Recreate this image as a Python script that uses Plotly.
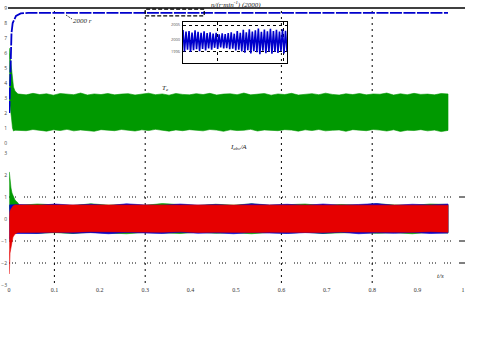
import numpy as np
import plotly.graph_objects as go

# ---------------- data ----------------
# x axis: time (s)
x_ticks = [0, 0.1, 0.2, 0.3, 0.4, 0.5, 0.6, 0.7, 0.8, 0.9, 1.0]
x_ticktext = ["0", "0.1", "0.2", "0.3", "0.4", "0.5", "0.6", "0.7", "0.8", "0.9", "1"]
top_yticks = [0, 1, 2, 3, 4, 5, 6, 7, 8, 9]
bot_yticks = [-3, -2, -1, 0, 1, 2, 3]
t_end = 0.967

# speed (top panel, scaled units)
speed_t = [0.0007, 0.0018, 0.0029, 0.0040, 0.0055, 0.0081, 0.0121, 0.0154, 0.0258, 0.0419, t_end]
speed_v = [2.00, 3.53, 5.20, 6.53, 7.33, 8.00, 8.33, 8.47, 8.64, 8.67, 8.67]

# electromagnetic torque envelope (top panel)
te_start_t = [0.0007, 0.0033, 0.0055, 0.0077, 0.0099, 0.0132, 0.0198]
te_start_up = [6.33, 5.53, 4.87, 4.20, 3.73, 3.47, 3.27]
te_start_lo = [2.87, 2.20, 1.67, 1.00, 0.80, 0.85, 0.87]
te_up = [3.26, 3.21, 3.31, 3.23, 3.28, 3.19, 3.30, 3.24, 3.22, 3.33, 3.20, 3.27, 3.23, 3.30,
         3.21, 3.26, 3.29, 3.20, 3.25, 3.32, 3.22, 3.27, 3.19, 3.30, 3.24, 3.21, 3.29, 3.23,
         3.31, 3.20, 3.26, 3.28, 3.22, 3.33, 3.21, 3.25, 3.30, 3.19, 3.27, 3.23, 3.31, 3.20,
         3.26, 3.29, 3.22, 3.32, 3.24, 3.20, 3.28, 3.23, 3.30, 3.21, 3.27, 3.25, 3.33, 3.20,
         3.28, 3.22, 3.31, 3.24, 3.26, 3.21, 3.30, 3.27]
te_lo = [0.86, 0.82, 0.90, 0.84, 0.79, 0.88, 0.83, 0.91, 0.81, 0.87, 0.85, 0.78, 0.89, 0.84,
         0.82, 0.90, 0.86, 0.80, 0.88, 0.83, 0.91, 0.85, 0.79, 0.87, 0.82, 0.89, 0.84, 0.81,
         0.90, 0.86, 0.78, 0.88, 0.83, 0.85, 0.91, 0.80, 0.87, 0.84, 0.82, 0.89, 0.86, 0.79,
         0.88, 0.83, 0.90, 0.81, 0.85, 0.87, 0.78, 0.89, 0.84, 0.82, 0.90, 0.86, 0.80, 0.88,
         0.77, 0.85, 0.83, 0.89, 0.81, 0.86, 0.76, 0.84]

# three-phase current envelopes (bottom panel)
i_start_t = [0.0007, 0.0022, 0.0044, 0.0066, 0.0088, 0.0132, 0.0198]
ia_start_up = [-0.05, 0.36, 0.45, 0.55, 0.59, 0.64, 0.64]
ia_start_lo = [-2.50, -1.55, -1.27, -1.05, -0.82, -0.68, -0.61]
ib_start_up = [0.64, 0.64, 0.66, 0.66, 0.66, 0.66, 0.66]
ib_start_lo = [-0.95, -0.86, -0.77, -0.72, -0.68, -0.66, -0.64]
ic_start_up = [2.14, 1.77, 1.41, 1.18, 1.05, 0.86, 0.73]
ic_start_lo = [0.59, 0.30, 0.00, -0.30, -0.50, -0.60, -0.63]

ia_up = [0.63, 0.64, 0.62, 0.65, 0.63, 0.64, 0.62, 0.64, 0.65, 0.63, 0.62, 0.64, 0.63, 0.65,
         0.62, 0.64, 0.63, 0.64, 0.62, 0.65, 0.63, 0.64, 0.62, 0.64, 0.63]
ia_lo = [-0.60, -0.59, -0.61, -0.60, -0.58, -0.60, -0.61, -0.59, -0.60, -0.58, -0.61, -0.60,
         -0.59, -0.61, -0.60, -0.58, -0.60, -0.61, -0.59, -0.60, -0.61, -0.59, -0.60, -0.58, -0.60]
ib_up = [0.66, 0.62, 0.68, 0.63, 0.67, 0.61, 0.69, 0.64, 0.62, 0.68, 0.63, 0.66, 0.61, 0.69,
         0.64, 0.67, 0.62, 0.68, 0.63, 0.66, 0.70, 0.62, 0.67, 0.64, 0.68]
ib_lo = [-0.64, -0.66, -0.60, -0.65, -0.62, -0.67, -0.61, -0.64, -0.66, -0.60, -0.65, -0.63,
         -0.67, -0.61, -0.64, -0.66, -0.62, -0.65, -0.60, -0.67, -0.63, -0.65, -0.61, -0.66, -0.64]
ic_up = [0.62, 0.68, 0.64, 0.61, 0.69, 0.63, 0.66, 0.62, 0.70, 0.64, 0.61, 0.67, 0.63, 0.69,
         0.62, 0.65, 0.68, 0.61, 0.66, 0.63, 0.69, 0.64, 0.62, 0.68, 0.66]
ic_lo = [-0.61, -0.65, -0.62, -0.66, -0.60, -0.64, -0.67, -0.61, -0.63, -0.66, -0.60, -0.65,
         -0.62, -0.67, -0.61, -0.64, -0.60, -0.66, -0.63, -0.61, -0.65, -0.62, -0.67, -0.60, -0.64]

# zoomed speed (inset)
zoom_range = [0.30, 0.43]
zoom_hi = [2003.3, 2002.8, 2003.0, 2002.5, 2003.2, 2002.7, 2002.4, 2002.9, 2002.3, 2002.6,
           2002.1, 2002.4, 2001.9, 2002.2, 2002.0, 2002.3, 2002.6, 2002.1, 2003.0, 2002.4,
           2003.4, 2002.6, 2003.6, 2002.8, 2003.2, 2003.8, 2002.7, 2003.5, 2002.9, 2003.7,
           2003.0, 2003.4, 2002.8, 2003.6, 2003.1]
zoom_lo = [1996.2, 1996.8, 1996.0, 1996.6, 1996.9, 1996.3, 1997.0, 1996.5, 1997.2, 1996.8,
           1997.4, 1997.0, 1997.5, 1997.2, 1997.3, 1996.9, 1997.1, 1996.5, 1996.8, 1996.2,
           1995.8, 1996.6, 1995.5, 1996.3, 1995.9, 1995.3, 1996.4, 1995.6, 1996.1, 1995.4,
           1996.0, 1995.7, 1996.3, 1995.5, 1996.2]
zoom_yticks = [1996, 2000, 2005]

v_grid = [0.1, 0.3, 0.6, 0.8]
h_grid_bot = [1, -1, -2]

BLUE = "#0000CC"
GREEN = "#009900"
RED = "#E60000"

# ---------------- figure ----------------
fig = go.Figure()


def band(t_start, up_start, lo_start, up, lo, color, xa, ya):
    ts = np.linspace(t_start[-1] + 0.003, t_end, len(up))
    xs_up = list(t_start) + list(ts)
    ys_up = list(up_start) + list(up)
    ts2 = np.linspace(t_start[-1] + 0.003, t_end, len(lo))
    xs_lo = list(t_start) + list(ts2)
    ys_lo = list(lo_start) + list(lo)
    fig.add_trace(go.Scatter(
        x=xs_up + xs_lo[::-1], y=ys_up + ys_lo[::-1], mode="lines", fill="toself",
        fillcolor=color, line=dict(color=color, width=0.6), xaxis=xa, yaxis=ya,
        hoverinfo="skip", showlegend=False))


band(te_start_t, te_start_up, te_start_lo, te_up, te_lo, GREEN, "x", "y")
fig.add_trace(go.Scatter(x=speed_t, y=speed_v, mode="lines",
                         line=dict(color=BLUE, width=1.8, dash="12px,1.5px"),
                         xaxis="x", yaxis="y", showlegend=False, hoverinfo="skip"))

band(i_start_t, ic_start_up, ic_start_lo, ic_up, ic_lo, GREEN, "x2", "y2")
band(i_start_t, ib_start_up, ib_start_lo, ib_up, ib_lo, BLUE, "x2", "y2")
band(i_start_t, ia_start_up, ia_start_lo, ia_up, ia_lo, RED, "x2", "y2")

# inset zigzag
zz_y = []
for hi, lo in zip(zoom_hi, zoom_lo):
    zz_y += [hi, lo]
zz_x = np.linspace(zoom_range[0], zoom_range[1], len(zz_y))
fig.add_trace(go.Scatter(x=zz_x, y=zz_y, mode="lines", line=dict(color=BLUE, width=1.6),
                         xaxis="x3", yaxis="y3", showlegend=False, hoverinfo="skip"))

# ---------------- layout helpers ----------------
L, R, T, B = 9, 18, 8, 56
PW, PH = 481 - L - R, 341 - T - B
BOTTOM_PX = 341 - B


def px(xp):
    return (xp - L) / PW


def py(yp):
    return (BOTTOM_PX - yp) / PH


tick_font = dict(family="Liberation Serif", size=6, color="#333")
label_font = dict(family="Liberation Serif", size=7, color="#222", style="italic")

shapes = []
for xv in v_grid:
    shapes.append(dict(type="line", xref="x2", yref="paper", x0=xv, x1=xv,
                       y0=py(283), y1=1, layer="below",
                       line=dict(color="black", width=1, dash="2px,4px")))
for hv in h_grid_bot:
    shapes.append(dict(type="line", xref="paper", yref="y2", x0=0, x1=px(459), y0=hv, y1=hv,
                       layer="below", line=dict(color="black", width=1,
                                                dash="1px,2px,1px,2px,1px,8px")))
    shapes.append(dict(type="line", xref="paper", yref="y2", x0=px(459), x1=px(465),
                       y0=hv, y1=hv, line=dict(color="black", width=1)))
# top border line
shapes.append(dict(type="line", xref="paper", yref="paper", x0=px(8), x1=px(465), y0=1, y1=1,
                   line=dict(color="black", width=1.5)))
# zoom rectangle
shapes.append(dict(type="rect", xref="x", yref="y", x0=zoom_range[0], x1=zoom_range[1],
                   y0=8.47, y1=8.93, line=dict(color="black", width=1.2, dash="4px,2px")))
# leader line for "2000 r"
shapes.append(dict(type="line", xref="paper", yref="paper", x0=px(66), y0=py(15),
                   x1=px(72), y1=py(19), line=dict(color="black", width=1, dash="1px,1px")))


def ann(text, xp, yp):
    return dict(text=text, x=px(xp), y=py(yp), xref="paper", yref="paper", showarrow=False,
                xanchor="center", yanchor="middle", font=label_font)


annotations = [
    ann("2000 r", 82, 21),
    ann("n/(r·min<sup>-1</sup>) (2000)", 236, 4),
    ann("T<sub>e</sub>", 165, 88),
    ann("I<sub>abc</sub>/A", 238, 147),
    ann("t/s", 440, 276),
]

axis_common = dict(showgrid=False, zeroline=False, showline=False, ticks="", automargin=False)

fig.update_layout(
    width=481, height=341,
    margin=dict(l=L, r=R, t=T, b=B, autoexpand=False),
    paper_bgcolor="white", plot_bgcolor="rgba(0,0,0,0)",
    showlegend=False,
    xaxis=dict(domain=[0, 1], range=[0, 1], anchor="y", showticklabels=False, **axis_common),
    yaxis=dict(domain=[py(148), 1], range=[(143 - 148) / 15, 9], anchor="x",
               tickvals=top_yticks, tickfont=dict(size=5, color="#444"), ticklabelstandoff=1,
               **axis_common),
    xaxis2=dict(domain=[0, 1], range=[0, 1], anchor="y2", tickvals=x_ticks,
                ticktext=x_ticktext, tickfont=tick_font, **axis_common),
    yaxis2=dict(domain=[0, py(150)], range=[-3.0, (219 - 150) / 22], anchor="x2",
                tickvals=bot_yticks, tickfont=dict(size=5, color="#444"), ticklabelstandoff=1,
                **axis_common),
    xaxis3=dict(domain=[px(183), px(287)], range=zoom_range, anchor="y3",
                showticklabels=False, tickvals=[0.3425, 0.425], showgrid=True,
                gridcolor="black", griddash="dot", gridwidth=1, zeroline=False,
                showline=True, mirror=True, linecolor="black", linewidth=1.3, ticks="",
                automargin=False),
    yaxis3=dict(domain=[py(63), py(22)], range=[1992.33, 2006], anchor="x3",
                tickvals=zoom_yticks, tickfont=dict(size=4, color="#555"),
                showgrid=True, gridcolor="black", griddash="dot", gridwidth=1,
                zeroline=False, showline=True, mirror=True, linecolor="black",
                linewidth=1.3, ticks="", automargin=False, ticklabelstandoff=1),
    shapes=shapes,
    annotations=annotations,
)

fig.write_html("out.html")
